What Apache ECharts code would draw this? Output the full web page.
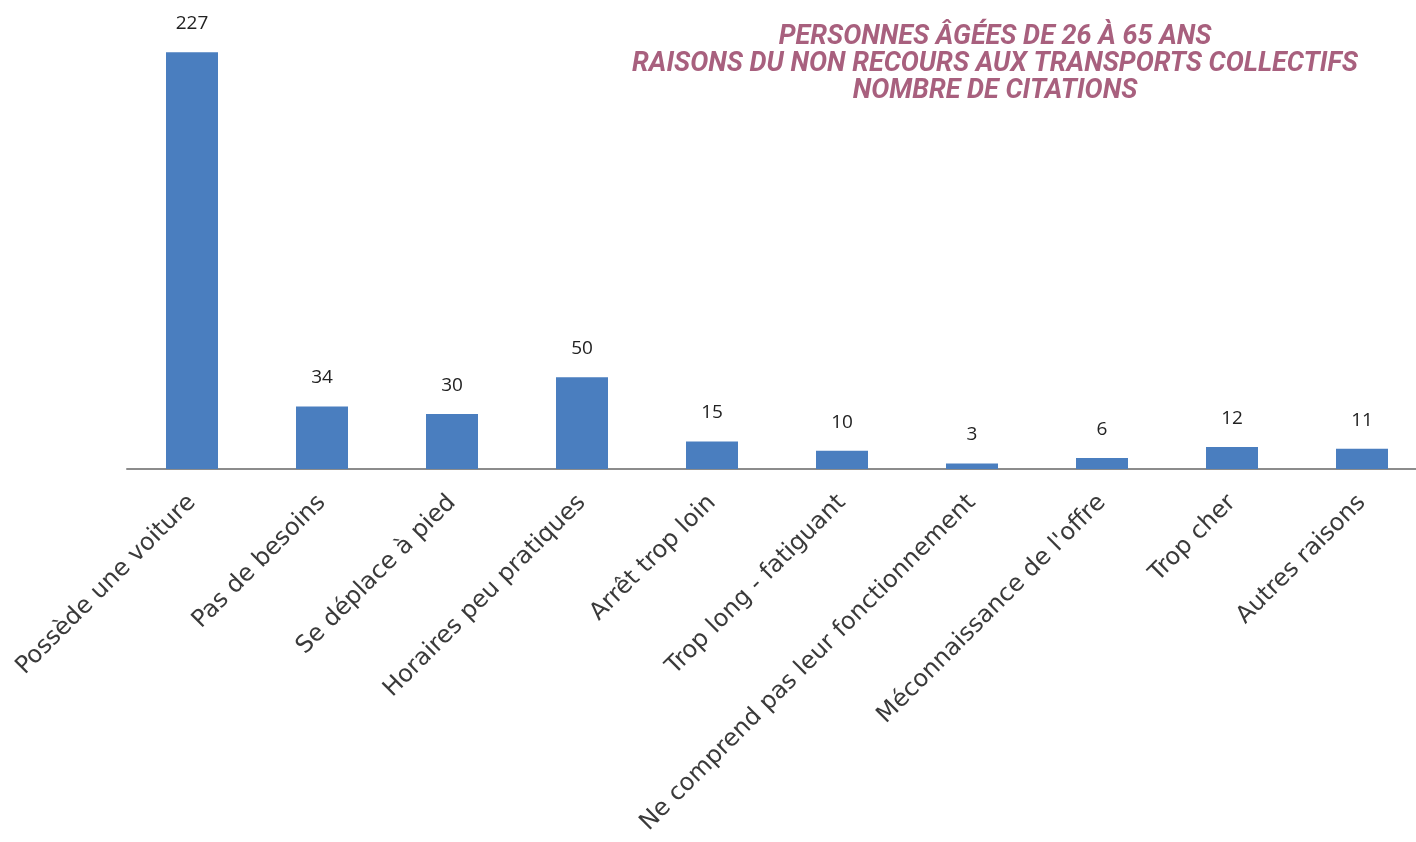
<!DOCTYPE html>
<html>
<head>
<meta charset="utf-8">
<script src="https://cdn.jsdelivr.net/npm/echarts@6/dist/echarts.min.js"></script>
<style>
  html, body { margin: 0; padding: 0; background: #fff; }
  #chart { width: 1416px; height: 842px; }
</style>
</head>
<body>
<div id="chart"></div>
<script>
// raisons du non recours aux transports collectifs
const categories = [
  "Possède une voiture",
  "Pas de besoins",
  "Se déplace à pied",
  "Horaires peu pratiques",
  "Arrêt trop loin",
  "Trop long - fatiguant",
  "Ne comprend pas leur fonctionnement",
  "Méconnaissance de l'offre",
  "Trop cher",
  "Autres raisons"
];
const citations = [227, 34, 30, 50, 15, 10, 3, 6, 12, 11];
const titleLines = [
  "PERSONNES ÂGÉES DE 26 À 65 ANS",
  "RAISONS DU NON RECOURS AUX TRANSPORTS COLLECTIFS",
  "NOMBRE DE CITATIONS"
];

const chart = echarts.init(document.getElementById("chart"));
chart.setOption({
  animation: false,
  title: {
    text: titleLines.join("\n"),
    left: 990,
    top: 19,
    textAlign: "center",
    textStyle: {
      fontFamily: "Roboto",
      fontStyle: "italic",
      fontWeight: "bold",
      fontSize: 27,
      lineHeight: 27,
      color: "#a8607e"
    }
  },
  grid: {
    left: 127,
    top: 10,
    width: 1300,
    height: 459,
    outerBoundsMode: "none"
  },
  xAxis: {
    type: "category",
    data: categories,
    axisLine: { lineStyle: { color: "#8c8c8c", width: 2 } },
    axisTick: { show: false },
    axisLabel: {
      rotate: 45,
      interval: 0,
      margin: 30,
      fontFamily: "DejaVu Sans",
      fontSize: 24,
      color: "#3a3a3a"
    }
  },
  yAxis: {
    type: "value",
    min: 0,
    max: 250,
    show: false
  },
  series: [
    {
      type: "bar",
      data: citations,
      barWidth: 52,
      itemStyle: { color: "#4a7ebf" },
      label: {
        show: true,
        position: "top",
        distance: 19,
        fontFamily: "Open Sans",
        fontSize: 19,
        color: "#222"
      }
    }
  ]
});
</script>
</body>
</html>
